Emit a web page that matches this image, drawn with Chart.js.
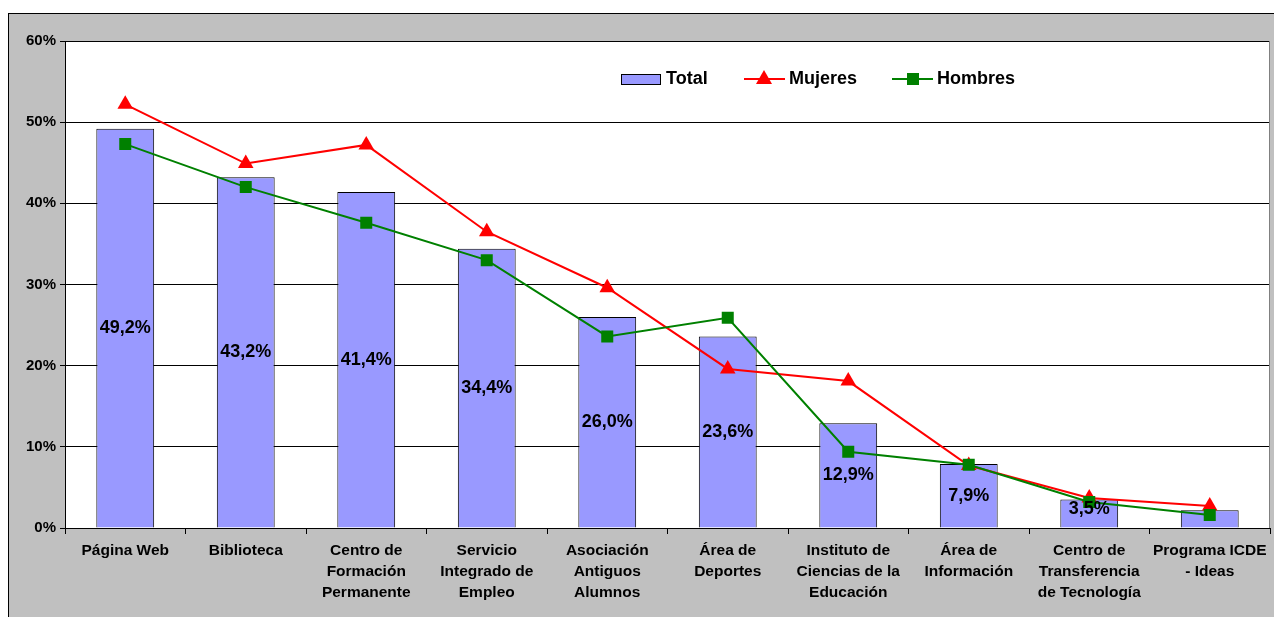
<!DOCTYPE html>
<html>
<head>
<meta charset="utf-8">
<script src="https://cdn.jsdelivr.net/npm/chart.js@4.4.1/dist/chart.umd.min.js"></script>
<style>
  html, body { margin: 0; padding: 0; background: #fff; overflow: hidden; }
  #frame {
    position: absolute; left: 8px; top: 13px; width: 1300px; height: 640px;
    background: #c0c0c0; border-left: 1px solid #000; border-top: 1px solid #000;
  }
  #myChart { position: absolute; left: 0; top: 0; }
</style>
</head>
<body>
<div id="frame"></div>
<canvas id="myChart" width="1274" height="617"></canvas>
<script>
const categories = [
  'Página Web', 'Biblioteca', ['Centro de', 'Formación', 'Permanente'],
  ['Servicio', 'Integrado de', 'Empleo'], ['Asociación', 'Antiguos', 'Alumnos'],
  ['Área de', 'Deportes'], ['Instituto de', 'Ciencias de la', 'Educación'],
  ['Área de', 'Información'], ['Centro de', 'Transferencia', 'de Tecnología'],
  ['Programa ICDE', '- Ideas']
];
const total = [49.2, 43.2, 41.4, 34.4, 26.0, 23.6, 12.9, 7.9, 3.5, 2.2];
const mujeres = [52.2, 44.9, 47.2, 36.5, 29.6, 19.6, 18.1, 7.7, 3.7, 2.7];
const hombres = [47.3, 42.0, 37.6, 33.0, 23.6, 25.9, 9.4, 7.8, 3.2, 1.6];
const yTicks = [0, 10, 20, 30, 40, 50, 60];
// last bar has no visible value label in the original
const showLabel = [true, true, true, true, true, true, true, true, true, false];

const FONT = '"Liberation Sans", Arial, sans-serif';

// white plot area + gray right border
const plotBg = {
  id: 'plotBg',
  beforeDraw(chart) {
    const { ctx, chartArea: a } = chart;
    ctx.save();
    ctx.fillStyle = '#fff';
    ctx.fillRect(a.left, a.top, a.right - a.left, a.bottom - a.top);
    ctx.restore();
  },
  afterDraw(chart) {
    const { ctx, chartArea: a } = chart;
    ctx.save();
    ctx.strokeStyle = '#808080';
    ctx.lineWidth = 1;
    ctx.beginPath();
    ctx.moveTo(a.right - 0.5, a.top);
    ctx.lineTo(a.right - 0.5, a.bottom);
    ctx.stroke();
    ctx.restore();
  }
};

// value labels centred inside the bars
const barLabels = {
  id: 'barLabels',
  afterDatasetsDraw(chart) {
    const { ctx } = chart;
    const meta = chart.getDatasetMeta(2);
    ctx.save();
    ctx.font = 'bold 18px ' + FONT;
    ctx.fillStyle = '#000';
    ctx.textAlign = 'center';
    ctx.textBaseline = 'middle';
    meta.data.forEach((bar, i) => {
      if (!showLabel[i]) return;
      const txt = total[i].toFixed(1).replace('.', ',') + '%';
      const cy = Math.min((bar.y + bar.base) / 2, bar.base - 18);
      ctx.fillText(txt, bar.x, cy);
    });
    ctx.restore();
  }
};

// legend inside the plot area
const innerLegend = {
  id: 'innerLegend',
  afterDraw(chart) {
    const { ctx } = chart;
    const ds = chart.data.datasets;
    const y = 79;
    ctx.save();
    ctx.font = 'bold 18px ' + FONT;
    ctx.textBaseline = 'middle';
    ctx.textAlign = 'left';
    // Total
    ctx.fillStyle = ds[2].backgroundColor;
    ctx.fillRect(621.5, 74.5, 39, 10);
    ctx.strokeStyle = '#000';
    ctx.lineWidth = 1;
    ctx.strokeRect(621.5, 74.5, 39, 10);
    ctx.fillStyle = '#000';
    ctx.fillText(ds[2].label, 666, y);
    // Mujeres
    ctx.strokeStyle = ds[0].borderColor;
    ctx.lineWidth = 2;
    ctx.beginPath(); ctx.moveTo(744, y); ctx.lineTo(785, y); ctx.stroke();
    ctx.fillStyle = ds[0].borderColor;
    ctx.beginPath(); ctx.moveTo(764, y - 9); ctx.lineTo(772, y + 5); ctx.lineTo(756, y + 5); ctx.closePath(); ctx.fill();
    ctx.fillStyle = '#000';
    ctx.fillText(ds[0].label, 789, y);
    // Hombres
    ctx.strokeStyle = ds[1].borderColor;
    ctx.beginPath(); ctx.moveTo(892, y); ctx.lineTo(933, y); ctx.stroke();
    ctx.fillStyle = ds[1].borderColor;
    ctx.fillRect(907, y - 6, 12, 12);
    ctx.fillStyle = '#000';
    ctx.fillText(ds[1].label, 937, y);
    ctx.restore();
  }
};

const ctx = document.getElementById('myChart').getContext('2d');

new Chart(ctx, {
  data: {
    labels: categories,
    datasets: [
      {
        type: 'line', label: 'Mujeres', data: mujeres, order: 1,
        borderColor: '#ff0000', backgroundColor: '#ff0000', borderWidth: 2,
        pointStyle: 'triangle', pointRadius: 9, pointHoverRadius: 9,
        pointBorderWidth: 0, tension: 0
      },
      {
        type: 'line', label: 'Hombres', data: hombres, order: 0,
        borderColor: '#008000', backgroundColor: '#008000', borderWidth: 2,
        pointStyle: 'rect', pointRadius: 8.5, pointHoverRadius: 8.5,
        pointBorderWidth: 0, tension: 0
      },
      {
        type: 'bar', label: 'Total', data: total, order: 2,
        backgroundColor: '#9999ff', borderColor: '#000', borderWidth: 1,
        barPercentage: 0.48, categoryPercentage: 1
      }
    ]
  },
  options: {
    responsive: false,
    animation: false,
    layout: { autoPadding: false, padding: { top: 41, right: 4, left: 0, bottom: 0 } },
    plugins: {
      legend: { display: false },
      tooltip: { enabled: false }
    },
    scales: {
      x: {
        offset: true,
        grid: {
          offset: true, drawOnChartArea: false, drawTicks: true,
          tickLength: 6, tickColor: '#000', color: '#000'
        },
        border: { color: '#000', width: 1 },
        ticks: {
          color: '#000', maxRotation: 0, autoSkip: false, padding: 6,
          font: { family: FONT, size: 15.5, weight: 'bold', lineHeight: 1.36 }
        },
        afterFit(scale) {
          scale.height = 617 - 528;
          scale.paddingLeft = 0;
          scale.paddingRight = 0;
        }
      },
      y: {
        min: 0, max: 60,
        afterBuildTicks(scale) { scale.ticks = yTicks.map(v => ({ value: v })); },
        grid: { color: '#000', tickLength: 5, tickColor: '#000', lineWidth: 1 },
        border: { color: '#000', width: 1 },
        ticks: {
          color: '#000', padding: 4,
          font: { family: FONT, size: 15, weight: 'bold' },
          callback: v => v + '%'
        },
        afterFit(scale) { scale.width = 65; }
      }
    }
  },
  plugins: [plotBg, barLabels, innerLegend]
});
</script>
</body>
</html>
